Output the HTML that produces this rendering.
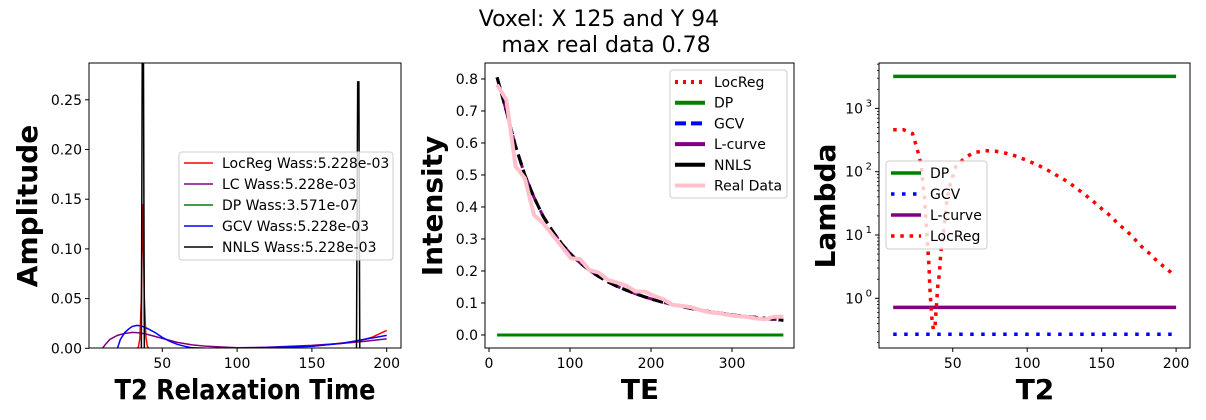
<!DOCTYPE html>
<html><head><meta charset="utf-8"><style>
html,body{margin:0;padding:0;background:#fff;width:1206px;height:420px;overflow:hidden}
svg{display:block;font-family:"DejaVu Sans","Liberation Sans",sans-serif}
</style></head><body>
<svg id="chart" width="1206" height="420" viewBox="0 0 1206 420">
<text x="599" y="26" font-size="22" text-anchor="middle">Voxel: X 125 and Y 94</text>
<text x="606" y="52" font-size="22" text-anchor="middle">max real data 0.78</text>
</svg>
<script>
// ---- Left panel data ----
const locregX=[10,33,34,35,36,36.5,37,37.5,38,39,40,41,50,100,150,180,190,200];
const locregY=[0,0,0.001,0.01,0.05,0.1,0.145,0.1,0.05,0.012,0.002,0,0,0,0.002,0.007,0.011,0.018];
const lcX=[10,12,15,20,25,30,35,40,50,60,70,80,100,120,150,170,185,200];
const lcY=[0,0.004,0.009,0.013,0.015,0.016,0.0155,0.014,0.01,0.006,0.0035,0.002,0.0005,0.001,0.003,0.005,0.007,0.0095];
const dpX=[10,200];
const dpY=[0,0];
const gcvX=[20,22,25,28,30,33,36,40,45,50,55,60,65,70,80,100,150,170,185,200];
const gcvY=[0,0.009,0.016,0.02,0.022,0.023,0.0225,0.02,0.016,0.011,0.007,0.004,0.002,0.0005,0,0,0.002,0.005,0.009,0.013];
const nnlsX=[10,36,36.6,37.4,38,179.8,180.6,181.4,182,200];
const nnlsY=[0,0,0.3,0.3,0,0,0.268,0.268,0,0];
const leftXTicks=[50,100,150,200];
const leftYTicks=[0,0.05,0.10,0.15,0.20,0.25];
const leftYLabels=["0.00","0.05","0.10","0.15","0.20","0.25"];
// ---- Middle panel data ----
const teVals=[10,21.4,32.8,44.2,55.6,67,78.4,89.8,101.2,112.6,124,135.4,146.8,158.2,169.6,181,192.4,203.8,215.2,226.6,238,249.4,260.8,272.2,283.6,295,306.4,317.8,329.2,340.6,352,363.4];
const realData=[0.782,0.735,0.527,0.490,0.375,0.349,0.313,0.276,0.240,0.237,0.203,0.195,0.172,0.164,0.154,0.136,0.136,0.122,0.112,0.094,0.091,0.087,0.078,0.071,0.068,0.063,0.059,0.057,0.052,0.049,0.057,0.057];
const fitData=[0.805,0.70,0.59,0.50,0.43,0.37,0.325,0.285,0.252,0.225,0.202,0.183,0.166,0.152,0.140,0.129,0.119,0.110,0.102,0.095,0.089,0.083,0.078,0.073,0.069,0.065,0.061,0.058,0.055,0.052,0.049,0.046];
const dpFit=[0,0,0,0,0,0,0,0,0,0,0,0,0,0,0,0,0,0,0,0,0,0,0,0,0,0,0,0,0,0,0,0];
const midXTicks=[0,100,200,300];
const midYTicks=[0,0.1,0.2,0.3,0.4,0.5,0.6,0.7,0.8];
const midYLabels=["0.0","0.1","0.2","0.3","0.4","0.5","0.6","0.7","0.8"];
// ---- Right panel data ----
const lamT2=[10,17,23,25,27,29,30,31,32,33,33.5,34,34.3,34.6,35,35.5,36,37,38,38.5,39,39.5,40,41,41.5,42,43,44,45,46,48,52,58,64,72,79,86,93,100,107,114,120,127,133,139,145,150,156,161,167,172,177,183,188,194,199];
const lamLocReg=[460,460,400,280,190,120,60,40,17,7.5,5,3.4,2.3,1.5,1.05,0.7,0.48,0.32,0.33,0.5,0.75,1.1,1.6,2.4,3.6,5.3,8,12,20,35,60,120,165,200,215,210,195,175,150,128,105,87,70,55,43,33,26,20,15,11.5,8.7,6.5,4.9,3.7,2.9,2.25];
const lamDP=3200;
const lamGCV=0.27;
const lamLC=0.72;
const rightXTicks=[50,100,150,200];
const rightDecades=[0,1,2,3];

const svg=document.getElementById('chart');
const NS='http://www.w3.org/2000/svg';
function mk(tag,attrs,parent){const e=document.createElementNS(NS,tag);for(const k in attrs)e.setAttribute(k,attrs[k]);(parent||svg).appendChild(e);return e;}
function pathD(xs,ys,fx,fy){return xs.map((x,i)=>(i?'L':'M')+fx(x).toFixed(2)+','+fy(ys[i]).toFixed(2)).join('');}
function clip(id,x,y,w,h){const c=mk('clipPath',{id:id});mk('rect',{x:x,y:y,width:w,height:h},c);}

function frame(g,x0,y0,x1,y1){const r=mk('rect',{x:x0,y:y0,width:x1-x0,height:y1-y0,fill:'none',stroke:'#000','stroke-width':1},g);}
function xTicks(g,ticks,fx,yb,labels){ticks.forEach((t,i)=>{const x=fx(t);mk('line',{x1:x,x2:x,y1:yb,y2:yb+4,stroke:'#000'},g);const tx=mk('text',{x:x,y:yb+20,'font-size':14,'text-anchor':'middle'},g);tx.textContent=labels?labels[i]:String(t);});}
function yTicks(g,ticks,fy,xl,labels){ticks.forEach((t,i)=>{const y=fy(t);mk('line',{x1:xl-4,x2:xl,y1:y,y2:y,stroke:'#000'},g);const tx=mk('text',{x:xl-7,y:y+5,'font-size':14,'text-anchor':'end'},g);tx.textContent=labels[i];});}
function legend(g,x,y,w,h,items){const lg=mk('g',{},g);
 mk('rect',{x:x,y:y,width:w,height:h,rx:3,fill:'#fff','fill-opacity':0.8,stroke:'#ccc'},lg);
 items.forEach((it,i)=>{const yy=y+it.dy0+i*it.step;const e=mk('g',{},lg);
  const l=mk('line',{x1:x+5,x2:x+it.len+5,y1:yy,y2:yy,stroke:it.c,'stroke-width':it.w},e);if(it.dash)l.setAttribute('stroke-dasharray',it.dash);
  const t=mk('text',{x:x+it.len+14,y:yy+5,'font-size':14},e);t.textContent=it.t;});}

// ===== Left panel =====
(function(){
 const x0=89,x1=401,y0=63,y1=348;
 const fx=v=>87.5+v*1.496, fy=v=>348.3-v*994;
 const g=mk('g',{});
 clip('cl',x0,y0,x1-x0,y1-y0);
 const sg=mk('g',{'clip-path':'url(#cl)'},g);
 const ser=[[locregX,locregY,'red','locreg-line'],[lcX,lcY,'purple','lc-line'],[dpX,dpY,'green','dp-line'],[gcvX,gcvY,'blue','gcv-line'],[nnlsX,nnlsY,'black','nnls-line']];
 ser.forEach(s=>{const p=mk('path',{d:pathD(s[0],s[1],fx,fy),fill:'none',stroke:s[2],'stroke-width':1.5},sg);});
 frame(g,x0,y0,x1,y1);
 xTicks(g,leftXTicks,fx,y1);
 yTicks(g,leftYTicks,fy,x0,leftYLabels);
 const xl=mk('text',{x:245,y:399,'font-size':28,'font-weight':'bold','text-anchor':'middle',textLength:261,lengthAdjust:'spacingAndGlyphs'},g);xl.textContent='T2 Relaxation Time';
 const yl=mk('text',{x:0,y:0,'font-size':28,'font-weight':'bold','text-anchor':'middle',transform:'translate(37,206) rotate(-90)'},g);yl.textContent='Amplitude';
 const it=(t,c)=>({t:t,c:c,w:1.5,len:29,dy0:11,step:21});
 legend(g,179,152,214,108,[it('LocReg Wass:5.228e-03','red'),it('LC Wass:5.228e-03','purple'),it('DP Wass:3.571e-07','green'),it('GCV Wass:5.228e-03','blue'),it('NNLS Wass:5.228e-03','black')]);
})();

// ===== Middle panel =====
(function(){
 const x0=485,x1=794,y0=63,y1=348;
 const fx=v=>489+v*0.81, fy=v=>335-v*320;
 const g=mk('g',{});
 clip('cm',x0,y0,x1-x0,y1-y0);
 const sg=mk('g',{'clip-path':'url(#cm)'},g);
 const ser=[[fitData,'red',3,'3 5','locreg-fit'],[dpFit,'green',3,null,'dp-fit'],[fitData,'blue',3,'11 5','gcv-fit'],[fitData,'purple',3,'14 6','lcurve-fit'],[fitData,'black',3,'11 5','nnls-fit'],[realData,'pink',4,null,'real-data']];
 ser.forEach(s=>{const p=mk('path',{d:pathD(teVals,s[0],fx,fy),fill:'none',stroke:s[1],'stroke-width':s[2],'stroke-linejoin':'round'},sg);if(s[3])p.setAttribute('stroke-dasharray',s[3]);});
 frame(g,x0,y0,x1,y1);
 xTicks(g,midXTicks,fx,y1);
 yTicks(g,midYTicks,fy,x0,midYLabels);
 const xl=mk('text',{x:640,y:399,'font-size':28,'font-weight':'bold','text-anchor':'middle'},g);xl.textContent='TE';
 const yl=mk('text',{x:0,y:0,'font-size':28,'font-weight':'bold','text-anchor':'middle',transform:'translate(442,206) rotate(-90)'},g);yl.textContent='Intensity';
 const it=(t,c,d)=>({t:t,c:c,w:4,len:30,dy0:12,step:20.7,dash:d});
 legend(g,670,70,117,128,[it('LocReg','red','3 5'),it('DP','green'),it('GCV','blue','11 5'),it('L-curve','purple'),it('NNLS','black'),it('Real Data','pink')]);
})();

// ===== Right panel =====
(function(){
 const x0=879,x1=1190,y0=63,y1=348;
 const fx=v=>878.3+v*1.489, fy=v=>298.3-Math.log10(v)*63.3;
 const g=mk('g',{});
 clip('cr',x0,y0,x1-x0,y1-y0);
 const sg=mk('g',{'clip-path':'url(#cr)'},g);
 const hl=(v,c,d,n)=>{const p=mk('path',{d:pathD([10,200],[v,v],fx,fy),fill:'none',stroke:c,'stroke-width':3.5},sg);if(d)p.setAttribute('stroke-dasharray',d);};
 hl(lamDP,'green',null,'dp-lambda');
 hl(lamGCV,'blue','3.5 7.5','gcv-lambda');
 hl(lamLC,'purple',null,'lcurve-lambda');
 const p=mk('path',{d:pathD(lamT2,lamLocReg,fx,fy),fill:'none',stroke:'red','stroke-width':3.5,'stroke-dasharray':'3.5 5.8'},sg);
 frame(g,x0,y0,x1,y1);
 xTicks(g,rightXTicks,fx,y1);
 rightDecades.forEach(d=>{const y=fy(Math.pow(10,d));mk('line',{x1:x0-4,x2:x0,y1:y,y2:y,stroke:'#000'},g);
  for(let m=2;m<10;m++){const ym=fy(m*Math.pow(10,d));if(ym>y0&&ym<y1)mk('line',{x1:x0-2,x2:x0,y1:ym,y2:ym,stroke:'#000','stroke-width':0.8},g);}
  const t=mk('text',{x:x0-16,y:y+5,'font-size':14,'text-anchor':'end'},g);t.textContent='10';
  const s=mk('text',{x:x0-7,y:y-2,'font-size':10,'text-anchor':'end'},g);s.textContent=String(d);});
 [2,3,4,5,6,7,8,9].forEach(m=>{const ym=fy(m/10);if(ym<y1)mk('line',{x1:x0-2,x2:x0,y1:ym,y2:ym,stroke:'#000','stroke-width':0.8},g);});
 const xl=mk('text',{x:1035,y:399,'font-size':28,'font-weight':'bold','text-anchor':'middle'},g);xl.textContent='T2';
 const yl=mk('text',{x:0,y:0,'font-size':28,'font-weight':'bold','text-anchor':'middle',transform:'translate(835,206) rotate(-90)'},g);yl.textContent='Lambda';
 const it=(t,c,d)=>({t:t,c:c,w:3.5,len:30,dy0:12,step:21,dash:d});
 legend(g,886,161,101,88,[it('DP','green'),it('GCV','blue','3.5 7.5'),it('L-curve','purple'),it('LocReg','red','3.5 5.8')]);
})();
</script>
</body></html>
